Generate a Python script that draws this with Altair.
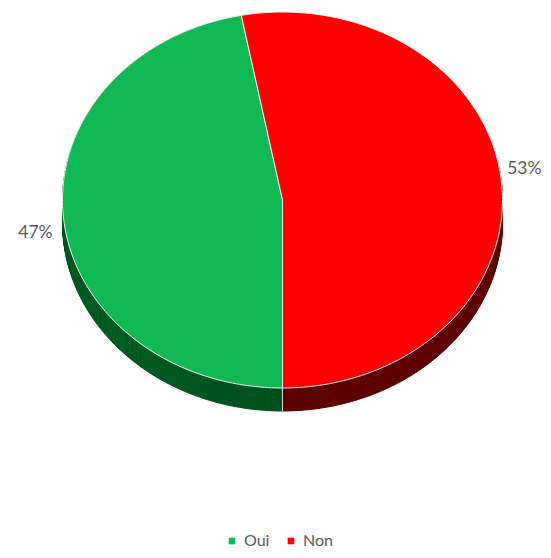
import altair as alt
import numpy as np
import pandas as pd

# ---- data ----
categories = ["Oui", "Non"]
values = [47, 53]
labels = ["47%", "53%"]

top_colors = ["#10B956", "#FF0000"]
N = 180  # arc resolution

vals = np.array(values, dtype=float)
f1 = np.cumsum(vals) / vals.sum()
f0 = f1 - vals / vals.sum()

rows = []
for c, a, b in zip(categories, f0, f1):
    rows.append(dict(cat=c, i=-1, f0=a, f1=b))
    for i in range(N + 1):
        rows.append(dict(cat=c, i=i, f0=a, f1=b))
df = pd.DataFrame(rows)

lab_df = pd.DataFrame({"cat": categories, "label": labels, "f0": f0, "f1": f1})

# geometry (unit ellipse mapped via scales)
W, H = 535, 542
RX, RY = 220.0, 188.0
CXP, CYP = 274.5, 192.0  # centre in plot coords
xdom = [-CXP / RX, (W - CXP) / RX]
ydom = [(CYP - H) / RY, CYP / RY]
DEPTH = 23

xs = alt.Scale(domain=xdom, nice=False, zero=False)
ys = alt.Scale(domain=ydom, nice=False, zero=False)

base = alt.Chart(df).transform_calculate(
    ang="PI + 2*PI*(datum.f0 + (datum.f1 - datum.f0) * datum.i / %d)" % N
).transform_calculate(
    px="datum.i < 0 ? 0 : sin(datum.ang)",
    py="datum.i < 0 ? 0 : cos(datum.ang)",
)

enc = dict(
    x=alt.X("px:Q", scale=xs, axis=None),
    y=alt.Y("py:Q", scale=ys, axis=None),
    order=alt.Order("i:Q"),
)

side_fill = {
    "Oui": alt.LinearGradient(
        gradient="linear", x1=0, x2=1, y1=0, y2=0,
        stops=[alt.GradientStop(offset=0, color="#0E8F40"),
               alt.GradientStop(offset=1, color="#00461B")],
    ),
    "Non": alt.LinearGradient(
        gradient="linear", x1=0, x2=1, y1=0, y2=0,
        stops=[alt.GradientStop(offset=0, color="#560000"),
               alt.GradientStop(offset=1, color="#6A0000")],
    ),
}
side_stroke = {"Oui": "#00531F", "Non": "#5C0000"}

layers = []
for k in range(DEPTH, 0, -1):
    for c in categories:
        layers.append(
            base.transform_filter(alt.datum.cat == c)
            .mark_line(interpolate="linear-closed", fill=side_fill[c],
                       stroke=side_stroke[c], strokeWidth=1, yOffset=k)
            .encode(**enc)
        )

seam = alt.Chart(pd.DataFrame({"a": [0]})).mark_rule(
    color="#D9D9D9", strokeWidth=1
).encode(
    x=alt.X("xx:Q", scale=xs, axis=None),
    y=alt.Y("y0:Q", scale=ys, axis=None),
    y2="y1:Q",
).transform_calculate(xx="0", y0="-1", y1="-1 - %f" % (DEPTH / RY))

top = base.mark_line(
    interpolate="linear-closed", filled=True, stroke="#F2F2F2", strokeWidth=1
).encode(
    color=alt.Color(
        "cat:N",
        scale=alt.Scale(domain=categories, range=top_colors),
        sort=categories,
        legend=alt.Legend(
            title=None, orient="none", direction="horizontal",
            legendX=216, legendY=525,
            symbolType="square", symbolSize=44, symbolStrokeWidth=0,
            labelFont="Lato", labelFontSize=16, labelColor="#595959",
            labelOffset=4, columnPadding=13,
        ),
    ),
    detail="cat:N",
    **enc,
)

lab_base = alt.Chart(lab_df).transform_calculate(
    ang="PI + 2*PI*(datum.f0 + datum.f1) / 2"
).transform_calculate(px="sin(datum.ang)", py="cos(datum.ang)")

lab_layers = []
offs = {"Oui": (-28, 15, "center"), "Non": (40, -13, "right")}
for c in categories:
    dx, dy, al = offs[c]
    lab_layers.append(
        lab_base.transform_filter(alt.datum.cat == c)
        .mark_text(font="Lato", fontSize=17.5, color="#595959",
                   align=al, baseline="middle", dx=dx, dy=dy)
        .encode(x=alt.X("px:Q", scale=xs, axis=None),
                y=alt.Y("py:Q", scale=ys, axis=None),
                text="label:N")
    )

chart = alt.layer(*layers, seam, top, *lab_layers).properties(
    width=W, height=H, autosize=alt.AutoSizeParams(type="none"), padding=0
).configure_view(stroke=None)

chart.save("out.html", embed_options={"renderer": "svg", "actions": False})
